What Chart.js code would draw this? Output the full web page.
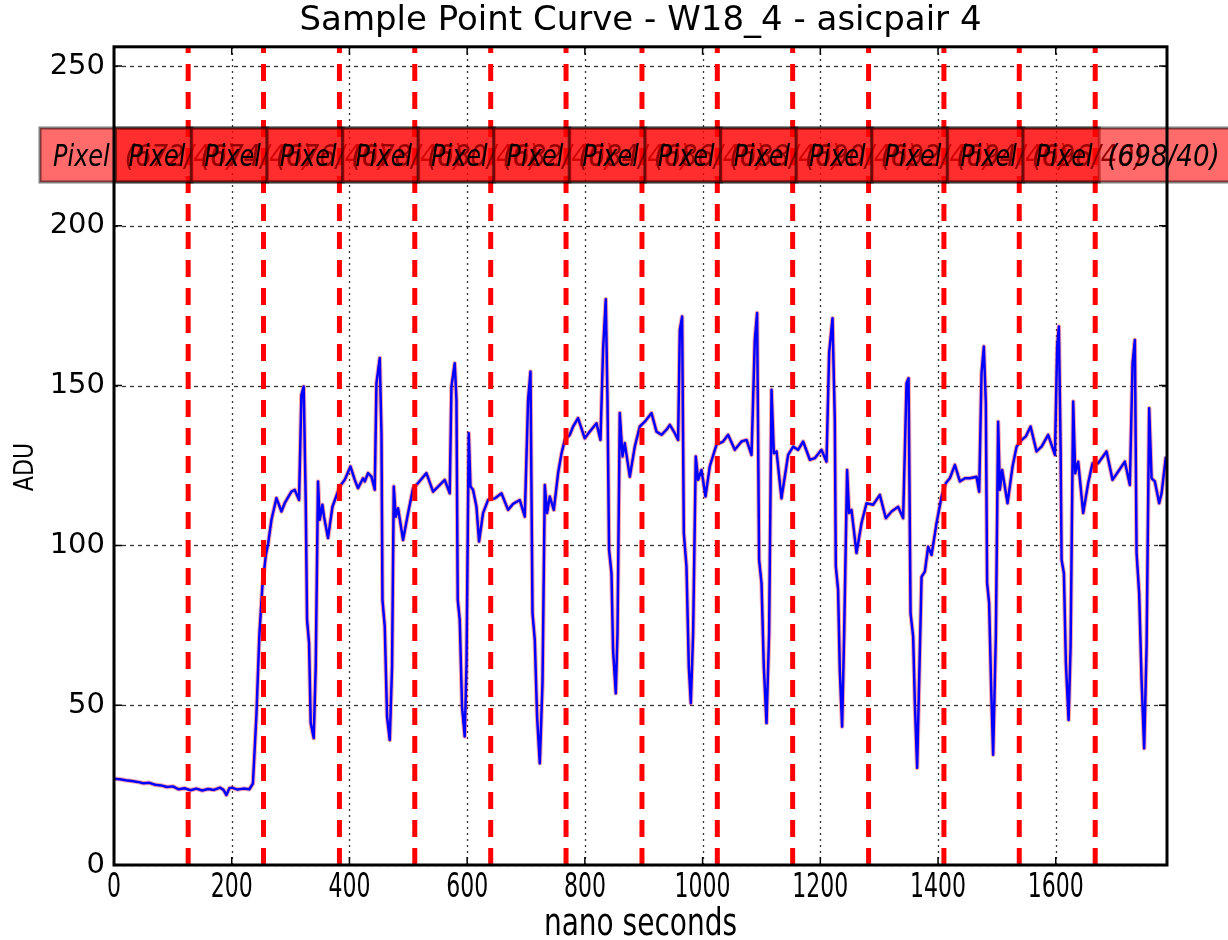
<!DOCTYPE html>
<html><head><meta charset="utf-8">
<script src="https://cdn.jsdelivr.net/npm/chart.js@4.4.0/dist/chart.umd.min.js"></script>
<style>html,body{margin:0;padding:0;background:#fff;}#wrap{width:1228px;height:940px;}</style>
</head><body><div id="wrap"><canvas id="c" width="1228" height="940"></canvas></div>
<script>
const titleText = "Sample Point Curve - W18_4 - asicpair 4";
const xLabel = "nano seconds";
const yLabel = "ADU";
const xTicks = [0, 200, 400, 600, 800, 1000, 1200, 1400, 1600];
const yTicks = [0, 50, 100, 150, 200, 250];
const boundaryNs = [126, 254, 383, 511, 640, 768, 897, 1025, 1153, 1282, 1410, 1538, 1667];
const pixelNames = ["Pixel","Pixel","Pixel","Pixel","Pixel","Pixel","Pixel","Pixel","Pixel","Pixel","Pixel","Pixel","Pixel","Pixel"];
const pixelIds = ["(672/40)","(674/40)","(676/40)","(678/40)","(680/40)","(682/40)","(684/40)","(686/40)","(688/40)","(690/40)","(692/40)","(694/40)","(696/40)","(698/40)"];

const timeNs = [0,10,20,30,40,50,60,70,80,90,100,110,120,130,140,150,160,170,180,186,191,196,200,210,220,230,236,242,247,252,258,262,
267.5,276,284.5,290,301.4,307,314.4,318.4,322.3,325.7,328,331.4,334.2,339.3,342.7,346.6,349.5,354.1,356.8,363.6,371.1,383.5,392,401.7,409,414.6,423.1,426,431.6,437.4,443,445.9,451.5,454.4,456.1,460,463.9,468.5,472.4,475.3,478.7,482.6,491.1,499.6,508.1,516.6,530.8,542.1,550.6,561.9,570.4,573.3,578.9,581.8,584,587.4,591.3,595.9,598.8,602.7,605.6,610,615.8,620.2,627,635.5,
646.9,658.3,669.5,678,689.4,697.9,703.5,707.6,711,714.9,718.8,723.4,728,731.9,735.8,740.4,747.2,754.5,760.3,765.9,774.4,780,788.4,799.8,808.3,819.7,826.5,830.9,835.5,838.4,841.1,845.2,847.9,852.5,855.4,859.3,863.9,867.8,876.3,884.8,893.3,901.8,913.2,921.7,930.2,938.7,944.3,952.8,958.4,961.3,965.2,968.1,972.6,976.6,980,983.9,988.4,992.4,998.1,1004.9,1012.2,1023.6,1034.8,1043.3,1054.7,1066.1,1074.6,1083.1,1088.7,1092.6,1096,1100.1,1104,1108.6,1113,1117.1,1121,1125.6,1134,1145.3,1153.8,1162.3,1170.8,1182.2,1190.7,1202,1210.5,1215,1220.7,1224.6,1226.3,1230.2,1233.1,1237,1240.4,1245.5,1248.9,1253,1261.5,1270,1278.5,1289.7,1301.1,1311.3,1321,1332.2,1340.7,1346.5,1349.9,1353.3,1357.7,1360.6,1364.5,1372,1377.6,1383.2,1389,1397.5,1406,1413.3,1420.1,1428.6,1437.1,1445.6,1454.1,1465.4,1469.9,1473.9,1477.8,1481.2,1483.4,1486.8,1490.2,1493.6,1498.2,1502.1,1505,1508.9,1518.1,1526.6,1533.4,1541.9,1549.2,1557.2,1567.4,1575.9,1587.1,1598.6,1602.4,1605.3,1608.2,1609.9,1613.8,1617.2,1621.8,1625.2,1629.6,1633,1638.1,1646.6,1655.1,1662.5,1672,1686.3,1696.5,1706.1,1717.4,1725.9,1730.5,1734.4,1737.3,1741.7,1745.8,1750.2,1754.3,1758.7,1762.8,1768.4,1775.7,1779.8,1787.1];

const adu = [27.0,26.8,26.5,26.3,26.0,25.6,25.7,25.1,24.9,24.4,24.6,23.7,24.0,23.4,23.9,23.3,23.8,23.5,24.2,23.5,21.9,24.0,24.2,23.6,23.9,23.7,25.5,47.0,72.0,87.0,97.0,100.7,
108,114.8,110.6,113.2,116.8,117.4,114.2,147.1,149.7,114.2,76.7,69.4,44.4,39.7,62,120,108,112.7,109,102.3,112.1,118.4,120.5,124.7,120.5,117.9,121,120,122.6,121.5,117.4,150.8,158.6,135.1,82.9,74.6,46.4,39.1,62,118.4,109,111.6,101.7,110.1,117.9,119.5,122.6,116.8,118.4,120.5,116.3,149.7,157,145.5,82.9,76.7,49.5,40.2,62,135.1,118.4,117.4,112.1,101.2,110.1,114.2,
114.7,116.3,111.1,113,114.2,109,145.5,154.4,78.8,70.4,46.4,31.8,56.9,118.9,110.1,115.3,111.1,122.6,128.8,133,134.6,137.2,139.8,133.5,135.6,138.2,133,161.2,177,145.5,98.6,91.3,67.3,53.7,72.5,141.4,127.8,132,121.5,130.9,137.2,138.7,141.4,135.6,134.6,136.2,137.7,135.1,133,167.4,171.6,103.8,93.4,62,50.6,72.5,127.8,120.5,123.6,115.3,124.7,131.5,132.5,134.6,129.9,132.5,133,128.3,164.3,172.7,95.5,88.2,62,44.4,72.5,148.7,128.8,129.4,114.7,128.3,130.9,129.9,132.5,126.8,127.3,129.9,126.2,160.2,171.1,139.3,93.4,86.1,61,43.3,71.5,123.6,110.1,111.1,97.6,107,113.2,112.7,115.8,108.5,110.6,112.1,108.5,150.8,152.3,78.8,71.5,50.6,30.4,90.2,91.8,99.6,97,107,115.3,119.5,121,125.2,120,121,121,121.5,116.8,153.9,162.2,144.5,88.2,81.9,55.8,34.5,71.5,138.7,117.4,123.6,113.2,124.7,130.9,133,134.1,137.2,129.4,130.9,134.6,128.3,162.2,168.5,130.9,95.5,91.3,63.1,45.4,68.3,145,122.6,126.2,110.1,119.5,125.7,125.7,129.4,120.5,123.1,126.2,118.9,157,164.3,97.6,85,57.9,36.5,68.3,142.9,121,120,113.2,116.3,127.8];

const points = timeNs.map((t, i) => ({x: t, y: adu[i]}));

const gridPlugin = {
  id: 'mplGrid',
  beforeDatasetsDraw(chart) {
    const {ctx, chartArea: a, scales: {x, y}} = chart;
    ctx.save();
    ctx.strokeStyle = 'rgba(0,0,0,0.8)';
    ctx.lineWidth = 1.3;
    ctx.setLineDash([2, 4]);
    xTicks.forEach(v => { const px = Math.round(x.getPixelForValue(v)) + 0.5; ctx.beginPath(); ctx.moveTo(px, a.bottom); ctx.lineTo(px, a.top); ctx.stroke(); });
    ctx.setLineDash([4, 4]);
    yTicks.forEach(v => { const py = Math.round(y.getPixelForValue(v)) + 0.5; ctx.beginPath(); ctx.moveTo(a.left, py); ctx.lineTo(a.right, py); ctx.stroke(); });
    ctx.restore();
  },
  afterDatasetsDraw(chart) {
    const {ctx, chartArea: a, scales: {x}} = chart;
    ctx.save();
    ctx.beginPath(); ctx.rect(a.left, a.top, a.right - a.left, a.bottom - a.top); ctx.clip();
    ctx.strokeStyle = '#ff0000';
    ctx.lineWidth = 5;
    ctx.setLineDash([17, 11]);
    boundaryNs.forEach(v => { const px = x.getPixelForValue(v); ctx.beginPath(); ctx.moveTo(px, a.bottom); ctx.lineTo(px, a.top); ctx.stroke(); });
    ctx.restore();
  },
  afterDraw(chart) {
    const {ctx, chartArea: a, scales: {x, y}} = chart;
    // x tick labels and axis titles (stretched like the reference)
    ctx.save();
    ctx.fillStyle = '#000';
    ctx.font = '22px "DejaVu Sans"';
    ctx.textAlign = 'center';
    ctx.textBaseline = 'top';
    xTicks.forEach(v => {
      const px = x.getPixelForValue(v);
      ctx.save(); ctx.translate(px, a.bottom + 6); ctx.scale(1, 1.55); ctx.fillText(String(v), 0, 0); ctx.restore();
    });
    ctx.font = '28px "DejaVu Sans"';
    ctx.textBaseline = 'alphabetic';
    ctx.save(); ctx.translate((a.left + a.right) / 2, 935); ctx.scale(1, 1.3); ctx.fillText(xLabel, 0, 0); ctx.restore();
    ctx.font = '26px "DejaVu Sans"';
    ctx.textBaseline = 'middle';
    ctx.save(); ctx.translate(25, 467); ctx.rotate(-Math.PI / 2); ctx.scale(0.85, 1); ctx.fillText(yLabel, 0, 1); ctx.restore();
    ctx.restore();
    // overlapping legend boxes
    ctx.save();
    const top = 128, h = 54, step = 75.6, left0 = 40;
    ctx.textBaseline = 'alphabetic';
    ctx.textAlign = 'left';
    pixelNames.forEach((name, k) => {
      const lx = left0 + step * k;
      const w = (k === pixelNames.length - 1) ? 215 : 152;
      ctx.fillStyle = 'rgba(255,0,0,0.58)';
      ctx.fillRect(lx, top, w, h);
      ctx.strokeStyle = 'rgba(0,0,0,0.5)';
      ctx.lineWidth = 3;
      ctx.strokeRect(lx, top, w, h);
      ctx.fillStyle = '#000';
      ctx.font = 'italic 30px "DejaVu Sans"';
      const nw = ctx.measureText(name).width * 0.8;
      ctx.save(); ctx.translate(lx + 13, top + 38); ctx.scale(0.8, 1); ctx.fillText(name, 0, 0); ctx.restore();
      ctx.save(); ctx.translate(lx + 13 + nw + 15, top + 38); ctx.scale(0.87, 1); ctx.fillText(pixelIds[k], 0, 0); ctx.restore();
    });
    ctx.restore();
    // frame and ticks
    ctx.save();
    ctx.strokeStyle = '#000';
    ctx.lineWidth = 1.5;
    xTicks.forEach(v => { const px = x.getPixelForValue(v); ctx.beginPath(); ctx.moveTo(px, a.bottom); ctx.lineTo(px, a.bottom - 8); ctx.moveTo(px, a.top); ctx.lineTo(px, a.top + 8); ctx.stroke(); });
    yTicks.forEach(v => { const py = y.getPixelForValue(v); ctx.beginPath(); ctx.moveTo(a.left, py); ctx.lineTo(a.left + 8, py); ctx.moveTo(a.right, py); ctx.lineTo(a.right - 8, py); ctx.stroke(); });
    ctx.lineWidth = 3;
    ctx.strokeRect(a.left, a.top, a.right - a.left, a.bottom - a.top);
    ctx.restore();
  }
};

new Chart(document.getElementById('c'), {
  type: 'line',
  data: {
    datasets: [
      {data: points, borderColor: '#0000ff', borderWidth: 2.5, pointRadius: 0, tension: 0, borderJoinStyle: 'round', fill: false},
      {data: points, borderColor: 'rgba(255,0,0,0.35)', borderWidth: 4.5, pointRadius: 0, tension: 0, borderJoinStyle: 'round', fill: false}
    ]
  },
  options: {
    responsive: false, animation: false, devicePixelRatio: 1,
    layout: {padding: {left: 0, right: 61, top: 0, bottom: 0}},
    plugins: {
      legend: {display: false}, tooltip: {enabled: false},
      title: {display: true, text: titleText, fullSize: false, color: '#000', font: {family: '"DejaVu Sans"', size: 34, weight: 'normal', lineHeight: 1.2}, padding: {top: 1, bottom: 5}}
    },
    scales: {
      x: {
        type: 'linear', min: 0, max: 1789,
        afterFit(s) { s.height = 75; },
        afterBuildTicks(s) { s.ticks = xTicks.map(v => ({value: v})); },
        grid: {display: false, drawTicks: false}, border: {display: false},
        ticks: {display: false},
        title: {display: false}
      },
      y: {
        type: 'linear', min: 0, max: 256,
        afterFit(s) { s.width = 114; },
        afterBuildTicks(s) { s.ticks = yTicks.map(v => ({value: v})); },
        grid: {display: false, drawTicks: false}, border: {display: false},
        ticks: {color: '#000', font: {family: '"DejaVu Sans"', size: 29}, padding: 9, autoSkip: false, callback: v => String(v)},
        title: {display: false}
      }
    }
  },
  plugins: [gridPlugin]
});
</script></body></html>
